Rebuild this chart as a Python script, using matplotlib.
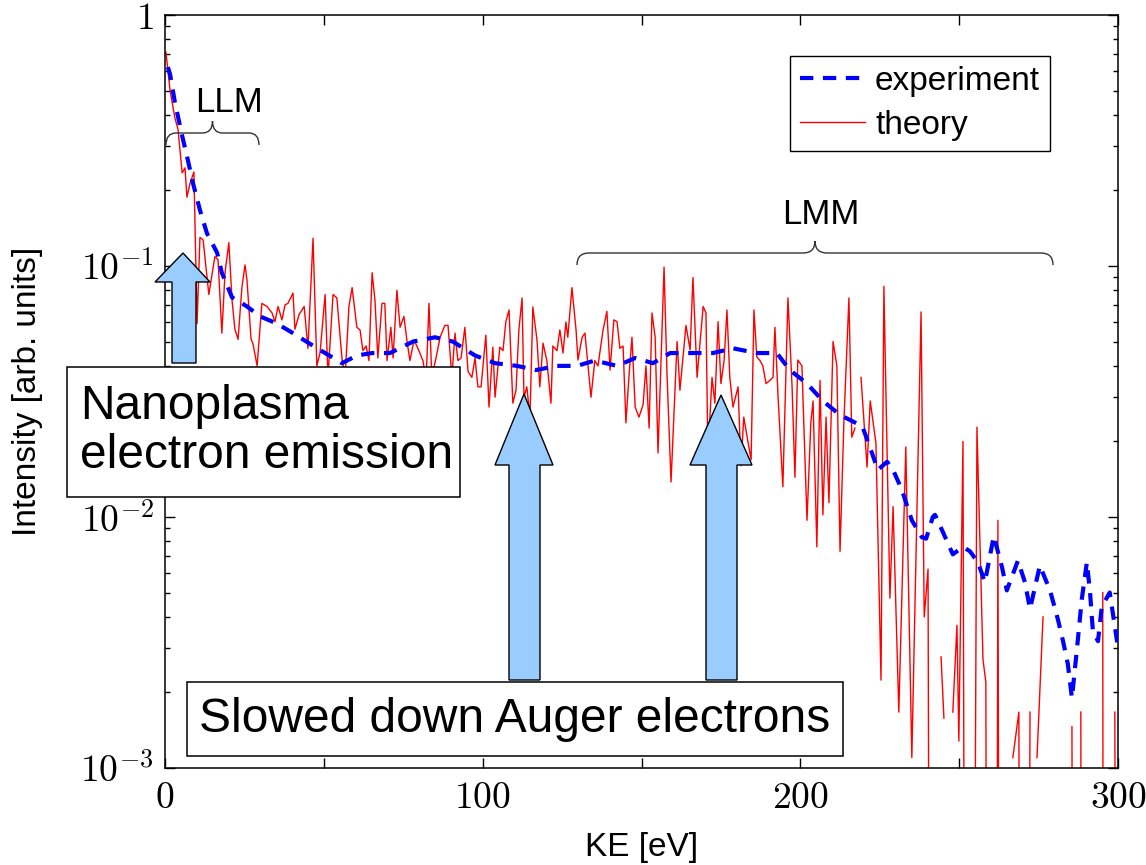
import numpy as np
import matplotlib.pyplot as plt
from matplotlib.patches import Polygon, Rectangle, PathPatch
from matplotlib.path import Path
from matplotlib.ticker import LogLocator, NullFormatter

# ---------------- data ----------------
# experiment (smoothed, dashed blue)
exp_ke = [0.9, 1.6, 3.1, 5.4, 7.2, 8.8, 11.0, 13.2, 16.4, 17.9, 21.1, 25.8, 29.9,
          35.2, 40.3, 45.6, 50.4, 55.7, 60.4, 65.2, 70.8, 78.1, 85.0, 90.6, 97.6,
          103.9, 110.8, 116.8, 123.4, 129.7, 135.3, 142.3, 148.0, 153.6, 159.0,
          166.2, 172.5, 178.8, 186.3, 192.6, 196.7, 202.1, 207.1, 212.5, 216.6,
          219.5, 221.9, 224.4, 227.3, 229.2, 232.0, 235.1, 238.3, 239.6, 241.7,
          242.4, 244.9, 248.0, 251.2, 253.4, 255.9, 258.1, 260.9, 263.5, 265.0,
          268.5, 270.7, 272.3, 275.4, 278.6, 281.1, 282.7, 284.2, 285.5, 287.1,
          288.6, 290.2, 291.2, 292.1, 293.7, 294.9, 297.4, 299.7, 300.0]
exp_int = [0.62, 0.58, 0.45, 0.33, 0.264, 0.214, 0.167, 0.135, 0.113, 0.094, 0.075,
           0.069, 0.063, 0.059, 0.054, 0.049, 0.045, 0.041, 0.044, 0.045, 0.045,
           0.050, 0.052, 0.050, 0.044, 0.041, 0.040, 0.0385, 0.040, 0.040, 0.042,
           0.040, 0.043, 0.041, 0.045, 0.045, 0.045, 0.047, 0.045, 0.045, 0.0385,
           0.034, 0.029, 0.0255, 0.024, 0.023, 0.019, 0.0154, 0.0166, 0.0154,
           0.0128, 0.0097, 0.0083, 0.0082, 0.0100, 0.0102, 0.0087, 0.0071, 0.0076,
           0.0073, 0.0066, 0.0055, 0.0084, 0.0063, 0.0051, 0.0067, 0.0055, 0.0043,
           0.0064, 0.0051, 0.0039, 0.0032, 0.0026, 0.0019, 0.0030, 0.0047, 0.0066,
           0.0050, 0.0035, 0.0032, 0.0044, 0.0050, 0.0032, 0.0030]

# theory (thin red); nan = no value, 1e-6 = far below the axis
nan = np.nan
theory_ke = [
    0.3, 1.6, 3.1, 4.1, 5.4, 6.3, 6.9, 7.9, 9.1, 10.1, 11.0, 12.0, 13.8, 15.7,
    16.7, 17.9, 18.9, 20.1, 21.1, 22.0, 23.0, 24.2, 25.2, 25.8, 27.1, 27.7, 29.0,
    30.5, 32.1, 33.7, 34.6, 35.6, 36.8, 37.8, 38.7, 40.3, 40.9, 42.2, 43.8, 45.0,
    46.6, 47.8, 48.8, 50.4, 51.3, 52.9, 54.1, 55.7, 56.7, 57.9, 58.9, 60.4, 61.4,
    62.3, 63.3, 64.2, 65.2, 66.1, 67.0, 68.3, 69.2, 69.9, 71.1, 71.8, 73.0, 74.0,
    75.2, 76.2, 77.1, 78.4, 79.6, 81.2, 82.2, 83.1, 84.0, 85.3, 86.6, 88.1, 89.1,
    90.3, 91.3, 92.2, 93.2, 94.4, 95.4, 96.6, 97.6, 98.5, 99.5, 101.0, 102.0,
    103.2, 103.9, 105.4, 106.4, 107.3, 108.3, 109.5, 110.5, 111.4, 112.4, 113.0,
    113.9, 114.9, 115.8, 117.1, 118.0, 119.0, 120.2, 121.5, 122.1, 123.4, 124.3,
    125.3, 126.2, 126.8, 128.1, 129.4, 130.0, 131.3, 132.2, 134.1, 135.3, 136.3,
    137.9, 139.1, 140.1, 141.3, 142.3, 143.2, 144.2, 145.1, 146.1, 147.0, 148.0,
    149.2, 150.5, 151.4, 152.4, 153.3, 154.3, 155.2, 157.1, 158.0, 159.3, 161.2,
    162.1, 164.0, 165.3, 166.2, 167.5, 169.4, 170.3, 170.9, 172.2, 173.1, 174.1,
    175.0, 176.0, 176.9, 177.8, 178.8, 180.4, 181.3, 182.2, 183.2, 184.5, 185.4,
    186.3, 187.3, 188.2, 189.2, 190.4, 191.4, 192.0, 193.0, 194.5, 196.1, 197.4,
    198.3, 199.2, 200.5, 202.1, 203.3, 204.0, 205.2, 206.2, 207.1, 208.1, 209.0,
    210.3, 211.5, 212.5, 213.7, 215.3, 216.2, 217.2, 218.1, 219.1, 221.0, 222.0,
    223.8, 225.4, 226.3, 228.2, 229.2, 231.0, 233.2, 235.1, 238.0, 239.0, 240.2,
    241.0, 242.5, 244.3, 245.2, 246.5, 248.0, 249.3, 249.9, 251.2, 252.1, 253.1,
    254.0, 255.6, 257.5, 258.4, 259.0, 260.3, 261.5, 262.2, 262.9, 264.5, 266.9,
    268.8, 269.3, 271.5, 272.3, 273.3, 274.5, 276.4, 277.4, 285.5, 286.1, 287.3,
    288.3, 288.6, 290.0, 295.2, 295.5, 297.0, 299.0, 299.7]
theory_int = [
    0.71, 0.50, 0.39, 0.35, 0.235, 0.246, 0.188, 0.214, 0.237, 0.059, 0.130, 0.127,
    0.077, 0.109, 0.106, 0.054, 0.094, 0.124, 0.073, 0.056, 0.051, 0.082, 0.101,
    0.088, 0.051, 0.049, 0.040, 0.071, 0.069, 0.065, 0.060, 0.069, 0.061, 0.070,
    0.071, 0.078, 0.056, 0.064, 0.069, 0.047, 0.129, 0.040, 0.045, 0.077, 0.036,
    0.077, 0.0746, 0.043, 0.036, 0.069, 0.082, 0.057, 0.0556, 0.046, 0.048, 0.042,
    0.094, 0.073, 0.043, 0.071, 0.071, 0.042, 0.057, 0.043, 0.080, 0.057, 0.063,
    0.050, 0.042, 0.0507, 0.047, 0.042, 0.035, 0.071, 0.036, 0.043, 0.052, 0.058,
    0.058, 0.036, 0.054, 0.042, 0.043, 0.057, 0.038, 0.036, 0.043, 0.033, 0.033,
    0.053, 0.0274, 0.0475, 0.030, 0.0475, 0.046, 0.060, 0.0668, 0.0284, 0.032,
    0.0556, 0.0746, 0.030, 0.033, 0.025, 0.0687, 0.0507, 0.033, 0.0493, 0.042,
    0.0284, 0.048, 0.046, 0.0556, 0.045, 0.0598, 0.052, 0.082, 0.0556, 0.0422,
    0.052, 0.054, 0.030, 0.042, 0.040, 0.0556, 0.066, 0.0385, 0.061, 0.060, 0.047,
    0.048, 0.0237, 0.037, 0.052, 0.0274, 0.025, 0.028, 0.040, 0.0226, 0.065, 0.052,
    0.018, 0.099, 0.038, 0.0138, 0.050, 0.032, 0.058, 0.0463, 0.090, 0.036, 0.069,
    0.065, 0.0175, 0.036, 0.0284, 0.060, 0.034, 0.042, 0.0668, 0.036, 0.0274,
    0.033, 0.016, 0.025, 0.021, 0.0169, 0.0668, 0.0434, 0.042, 0.040, 0.034, 0.035,
    0.036, 0.057, 0.030, 0.0132, 0.0746, 0.033, 0.0144, 0.0422, 0.040, 0.0097,
    0.0237, 0.029, 0.0076, 0.035, 0.0102, 0.025, 0.0114, 0.050, 0.040, 0.0073,
    0.0237, 0.0746, 0.0208, 0.0226, nan, 0.036, 0.0158, 0.029, 0.0197, 0.00224,
    0.083, 0.00475, 0.011, 0.00167, 0.019, 0.0011, 0.0656, 0.0040, 0.0062, 1e-6,
    nan, 0.00277, 0.00158, nan, 0.00167, 0.0037, 0.00128, 0.020, 1e-6, 1e-6, 1e-6,
    0.0228, 0.0027, 0.0022, 1e-6, 1e-6, 1e-6, 0.0097, 1e-6, nan, 0.0011, 0.00167,
    1e-6, 1e-6, 0.00167, nan, 0.0011, 0.0040, nan, 0.00146, 1e-6, nan, 0.00167,
    1e-6, nan, 0.0050, 1e-6, nan, 0.00167, 1e-6]

x_ticks = [0, 50, 100, 150, 200, 250, 300]
x_tick_labels = ['$0$', '', '$100$', '', '$200$', '', '$300$']
y_ticks = [1e-3, 1e-2, 1e-1, 1]
y_tick_labels = ['$10^{-3}$', '$10^{-2}$', '$10^{-1}$', '$1$']

# ---------------- figure ----------------
plt.rcParams['font.family'] = ['Liberation Sans', 'DejaVu Sans']
plt.rcParams['mathtext.fontset'] = 'cm'

W, H = 1146, 865
fig = plt.figure(figsize=(W / 100, H / 100), dpi=100)
ax = fig.add_axes([165 / W, 1 - 768 / H, (1118 - 165) / W, (768 - 15) / H])


def px(x, y):
    # reference pixel position -> inches from the lower left corner
    return (x / 100, (H - y) / 100)


ax.plot(exp_ke, exp_int, color='#0000ff', lw=3.0, ls=(0, (3.2, 2.3)),
        label='experiment', zorder=3)
ax.plot(theory_ke, theory_int, color='#ff0000', lw=1.0, label='theory', zorder=2)

ax.set_yscale('log')
ax.set_xlim(0, 300)
ax.set_ylim(1e-3, 1)
ax.set_xticks(x_ticks)
ax.set_xticklabels(x_tick_labels)
ax.set_yticks(y_ticks)
ax.set_yticklabels(y_tick_labels)
ax.yaxis.set_minor_locator(LogLocator(base=10, subs=np.arange(2, 10)))
ax.yaxis.set_minor_formatter(NullFormatter())
ax.tick_params(which='both', direction='in', top=True, right=True, width=1.0)
ax.tick_params(which='major', length=7.5, labelsize=27)
ax.tick_params(axis='x', which='major', pad=9)
ax.tick_params(axis='y', which='major', pad=8)
ax.tick_params(which='minor', length=3.8)
for s in ax.spines.values():
    s.set_linewidth(1.1)

ax.set_xlabel('KE [eV]', fontsize=24)
ax.xaxis.set_label_coords(0.5, -0.085)
ax.set_ylabel('Intensity [arb. units]', fontsize=24)
ax.yaxis.set_label_coords(-0.128, 0.5)

leg = ax.legend(loc='upper right', bbox_to_anchor=(1050 / W, 1 - 56 / H),
                bbox_transform=fig.transFigure, fontsize=24, fancybox=False,
                framealpha=1, edgecolor='black', handlelength=1.95,
                handletextpad=0.3, labelspacing=0.38, borderpad=0.3,
                borderaxespad=0)
leg.get_frame().set_linewidth(1.0)


# braces over the Auger groups
def brace(x0, x1, y, h, r):
    xm = (x0 + x1) / 2
    pts = [px(x0, y + h), px(x0, y), px(x0 + r, y), px(xm - r, y), px(xm, y),
           px(xm, y - h), px(xm, y), px(xm + r, y), px(x1 - r, y), px(x1, y),
           px(x1, y + h)]
    codes = [Path.MOVETO, Path.CURVE3, Path.CURVE3, Path.LINETO, Path.CURVE3,
             Path.CURVE3, Path.CURVE3, Path.CURVE3, Path.LINETO, Path.CURVE3,
             Path.CURVE3]
    fig.add_artist(PathPatch(Path(pts, codes), fill=False, ec='#333333', lw=1.0,
                             transform=fig.dpi_scale_trans))


brace(166, 259, 133, 12, 10)
brace(577, 1053, 253, 12, 12)
fig.text(*px(229, 102), 'LLM', fontsize=25, ha='center', va='center',
         transform=fig.dpi_scale_trans)
fig.text(*px(821, 214), 'LMM', fontsize=25, ha='center', va='center',
         transform=fig.dpi_scale_trans)


# block arrows
def block_arrow(tip_x, tip_y, head_y, head_l, head_r, sh_l, sh_r, bottom):
    pts = [px(tip_x, tip_y), px(head_r, head_y), px(sh_r, head_y), px(sh_r, bottom),
           px(sh_l, bottom), px(sh_l, head_y), px(head_l, head_y)]
    fig.add_artist(Polygon(pts, closed=True, fc='#99ccff', ec='black', lw=1.0,
                           transform=fig.dpi_scale_trans, zorder=5))


block_arrow(183, 253, 282, 155, 210, 172, 196, 363)
block_arrow(524, 394, 465, 495, 553, 509, 540, 680)
block_arrow(721, 395, 465, 690, 752, 706, 737, 680)

# text boxes
x0, y0 = px(67, 497)
fig.add_artist(Rectangle((x0, y0), 3.93, 1.30, fc='white', ec='black', lw=1.1,
                         transform=fig.dpi_scale_trans, zorder=5))
fig.text(*px(80, 431), 'Nanoplasma\nelectron emission', fontsize=34.5,
         ha='left', va='center', linespacing=1.1,
         transform=fig.dpi_scale_trans, zorder=6)

x0, y0 = px(187, 756)
fig.add_artist(Rectangle((x0, y0), 6.56, 0.74, fc='white', ec='black', lw=1.1,
                         transform=fig.dpi_scale_trans, zorder=5))
fig.text(*px(515, 719), 'Slowed down Auger electrons', fontsize=34.5,
         ha='center', va='center', transform=fig.dpi_scale_trans, zorder=6)

fig.savefig('out.png', dpi=100)
